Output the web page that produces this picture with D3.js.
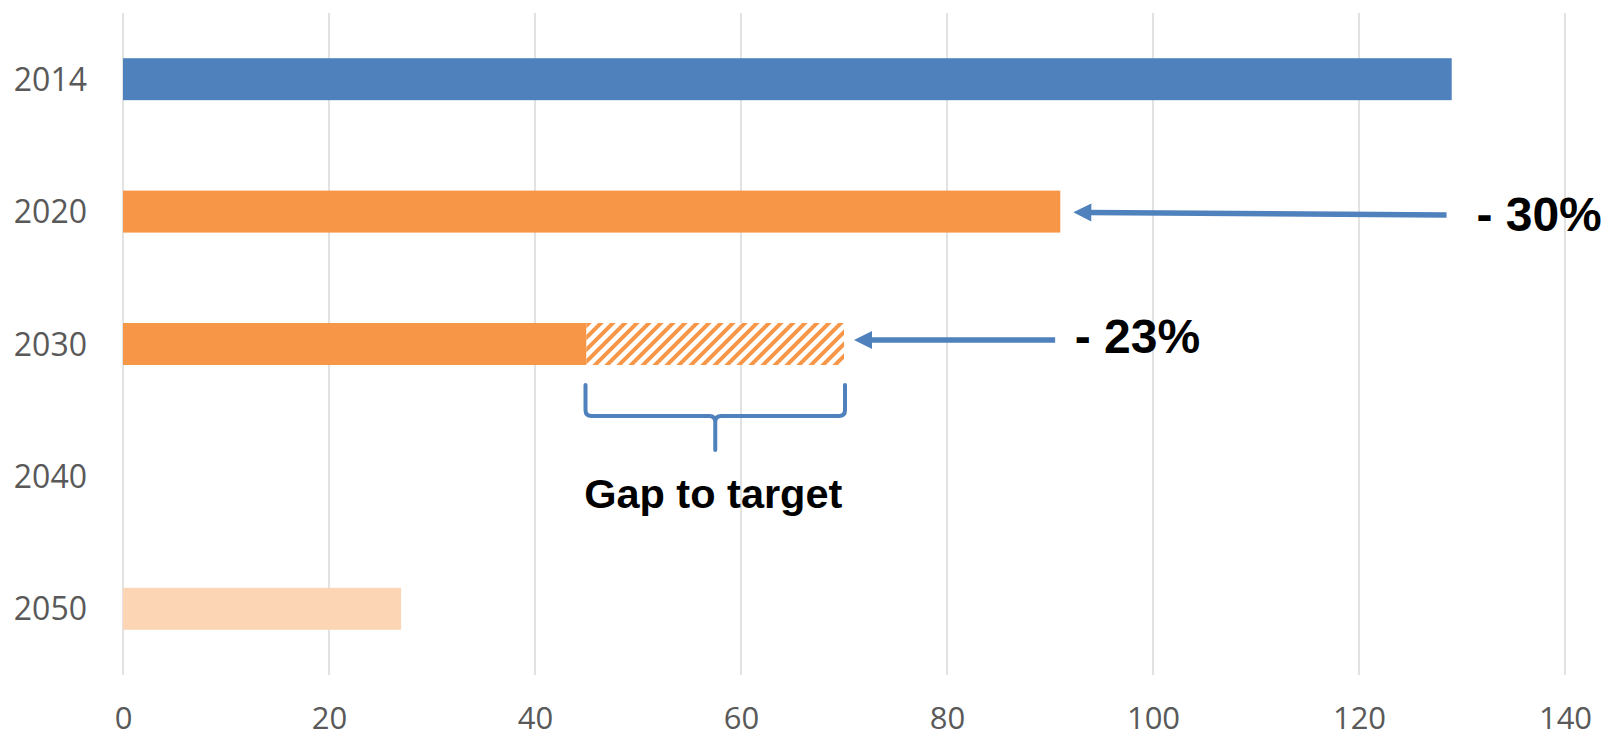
<!DOCTYPE html>
<html>
<head>
<meta charset="utf-8">
<script src="https://cdn.jsdelivr.net/npm/d3@7"></script>
<style>
  html, body { margin: 0; padding: 0; background: #ffffff; }
  svg { display: block; }
</style>
</head>
<body>
<script>
// Emission index by year (2014 = baseline)
const years = ["2014", "2020", "2030", "2040", "2050"];
const values = [129, 91, 45, null, 27];

// Remaining gap between the 2030 trajectory and the 2030 target
const gapYear = "2030";
const gapRange = [45, 70];

// Reduction callouts
const calloutYears = ["2020", "2030"];
const calloutTexts = ["- 30%", "- 23%"];
const calloutTails = [128.5, 90.5];   // value at which each arrow starts
const calloutTextAt = [131.4, 92.4];  // value at which each label starts

const xTicks = [0, 20, 40, 60, 80, 100, 120, 140];

const W = 1606, H = 737;
const margin = { top: 13, right: 41, bottom: 62, left: 123 };

const barColor = d3.scaleOrdinal()
  .domain(years)
  .range(["#4f81bd", "#f79646", "#f79646", "#f79646", "#fcd5b5"]);
const accent = "#4f81bd";
const axisText = "#595959";

const svg = d3.select("body").append("svg")
  .attr("width", W)
  .attr("height", H);

const x = d3.scaleLinear()
  .domain([0, 140])
  .range([margin.left, W - margin.right]);

const y = d3.scaleBand()
  .domain(years)
  .range([margin.top, H - margin.bottom])
  .paddingInner(0.683)
  .paddingOuter(0.3415);

// Diagonal hatch for the gap segment
const defs = svg.append("defs");
defs.append("pattern")
  .attr("id", "hatch")
  .attr("patternUnits", "userSpaceOnUse")
  .attr("width", 12)
  .attr("height", 12)
  .call(p => {
    p.append("rect").attr("width", 12).attr("height", 12).attr("fill", "#ffffff");
    p.append("path")
      .attr("d", "M-3,3 L3,-3 M0,12 L12,0 M9,15 L15,9")
      .attr("stroke", "#f79646")
      .attr("stroke-width", 4)
      .attr("fill", "none");
  });

// Vertical gridlines
svg.append("g")
  .selectAll("line")
  .data(xTicks)
  .join("line")
  .attr("x1", d => x(d))
  .attr("x2", d => x(d))
  .attr("y1", margin.top)
  .attr("y2", H - margin.bottom)
  .attr("stroke", "#d9d9d9")
  .attr("stroke-width", 1.5);

// Bars
const barData = years.map((yr, i) => ({ year: yr, value: values[i] }))
  .filter(d => d.value != null);

svg.append("g")
  .selectAll("rect")
  .data(barData)
  .join("rect")
  .attr("x", x(0))
  .attr("y", d => y(d.year))
  .attr("width", d => x(d.value) - x(0))
  .attr("height", y.bandwidth())
  .attr("fill", d => barColor(d.year));

// Gap to target segment
svg.append("rect")
  .attr("x", x(gapRange[0]))
  .attr("y", y(gapYear))
  .attr("width", x(gapRange[1]) - x(gapRange[0]))
  .attr("height", y.bandwidth())
  .attr("fill", "url(#hatch)");

// X axis labels
const xAxis = d3.axisBottom(x)
  .tickValues(xTicks)
  .tickSize(0)
  .tickPadding(32)
  .tickFormat(d3.format("d"));

svg.append("g")
  .attr("transform", `translate(0,${H - margin.bottom})`)
  .call(xAxis)
  .call(g => g.select(".domain").remove())
  .call(g => g.selectAll("text")
    .attr("fill", axisText)
    .attr("font-family", "'Open Sans', sans-serif")
    .attr("font-size", 31));

// Y axis labels
const yAxis = d3.axisLeft(y)
  .tickSize(0)
  .tickPadding(36);

svg.append("g")
  .attr("transform", `translate(${margin.left},0)`)
  .call(yAxis)
  .call(g => g.select(".domain").remove())
  .call(g => g.selectAll("text")
    .attr("fill", axisText)
    .attr("dy", "0.36em")
    .attr("font-family", "'Open Sans', sans-serif")
    .attr("font-size", 32));

// Callout arrows and labels
const tipGaps = [13, 10];
const tailDrop = [3.4, -4];
const tipDrop = [0.7, -4];
const textBaseline = [19.4, 9];

calloutYears.forEach((yr, i) => {
  const cy = y(yr) + y.bandwidth() / 2;
  const barEnd = yr === gapYear ? gapRange[1] : values[years.indexOf(yr)];
  const tipX = x(barEnd) + tipGaps[i];
  const tipY = cy + tipDrop[i];
  const tailX = x(calloutTails[i]);
  const tailY = cy + tailDrop[i];
  const headLen = 18, headHalf = 9;
  const ang = Math.atan2(tailY - tipY, tailX - tipX);
  const bx = tipX + headLen * Math.cos(ang);
  const by = tipY + headLen * Math.sin(ang);
  const nx = -Math.sin(ang), ny = Math.cos(ang);

  svg.append("line")
    .attr("x1", bx - 2 * Math.cos(ang))
    .attr("y1", by - 2 * Math.sin(ang))
    .attr("x2", tailX)
    .attr("y2", tailY)
    .attr("stroke", accent)
    .attr("stroke-width", 5.5);

  svg.append("path")
    .attr("d", `M${tipX},${tipY} L${bx + nx * headHalf},${by + ny * headHalf} L${bx - nx * headHalf},${by - ny * headHalf} Z`)
    .attr("fill", accent);

  svg.append("text")
    .attr("x", x(calloutTextAt[i]))
    .attr("y", cy + textBaseline[i])
    .attr("font-family", "'Liberation Sans', Arial, sans-serif")
    .attr("font-weight", "bold")
    .attr("font-size", 48)
    .attr("fill", "#000000")
    .text(calloutTexts[i]);
});

// Brace under the gap segment
const bl = x(gapRange[0]) - 1;
const br = x(gapRange[1]) + 1;
const bm = (bl + br) / 2;
const bTop = y(gapYear) + y.bandwidth() + 20;
const bMid = bTop + 31;
const bTip = bTop + 65;
const r = 6;

svg.append("path")
  .attr("d",
    `M${bl},${bTop} V${bMid - r} Q${bl},${bMid} ${bl + r},${bMid} H${bm - r} Q${bm},${bMid} ${bm},${bMid + r} V${bTip}` +
    ` M${br},${bTop} V${bMid - r} Q${br},${bMid} ${br - r},${bMid} H${bm + r} Q${bm},${bMid} ${bm},${bMid + r}`)
  .attr("fill", "none")
  .attr("stroke", accent)
  .attr("stroke-width", 4)
  .attr("stroke-linecap", "round")
  .attr("stroke-linejoin", "round");

svg.append("text")
  .attr("x", bm - 2)
  .attr("y", bTip + 58)
  .attr("text-anchor", "middle")
  .attr("font-family", "'Liberation Sans', Arial, sans-serif")
  .attr("font-weight", "bold")
  .attr("font-size", 41.5)
  .attr("fill", "#000000")
  .text("Gap to target");
</script>
</body>
</html>
